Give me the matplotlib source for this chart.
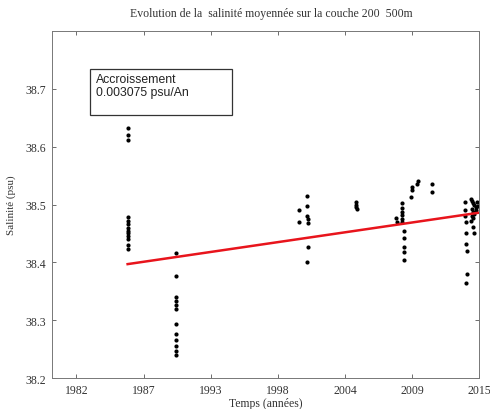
import matplotlib
matplotlib.use("Agg")
import matplotlib.pyplot as plt

# --- data (decimal years, salinity psu) ---
years_1986 = [1986.2] * 13
sal_1986 = [38.632, 38.620, 38.612, 38.478, 38.472, 38.466, 38.460, 38.455,
            38.450, 38.445, 38.440, 38.430, 38.424]

years_1990 = [1990.2] * 12
sal_1990 = [38.416, 38.376, 38.340, 38.333, 38.326, 38.319, 38.293, 38.276,
            38.266, 38.256, 38.247, 38.239]

years_2000 = [2000.2, 2000.2, 2000.9, 2000.9, 2000.9, 2001.0, 2001.0, 2001.0, 2000.9]
sal_2000 = [38.491, 38.470, 38.514, 38.498, 38.480, 38.475, 38.468, 38.427, 38.400]

years_2005 = [2004.9, 2004.9, 2004.9, 2004.95]
sal_2005 = [38.505, 38.500, 38.496, 38.492]

years_2008 = [2008.2, 2008.3, 2008.7, 2008.7, 2008.7, 2008.7, 2008.7, 2008.7,
              2008.8, 2008.8, 2008.8, 2008.8, 2008.8,
              2009.4, 2009.5, 2009.5, 2009.9, 2010.0, 2011.1, 2011.1]
sal_2008 = [38.476, 38.469, 38.503, 38.494, 38.487, 38.482, 38.475, 38.470,
            38.454, 38.442, 38.427, 38.418, 38.404,
            38.513, 38.525, 38.530, 38.536, 38.541, 38.536, 38.522]

years_2014 = [2013.8, 2013.8, 2013.8, 2013.9, 2013.9, 2013.9, 2014.0, 2014.0, 2013.9,
              2014.3, 2014.4, 2014.5, 2014.6, 2014.7, 2014.4, 2014.5, 2014.6,
              2014.8, 2014.9, 2014.7, 2014.3, 2014.5, 2014.6, 2014.4, 2014.5]
sal_2014 = [38.505, 38.490, 38.480, 38.470, 38.450, 38.432, 38.420, 38.380, 38.365,
            38.510, 38.507, 38.503, 38.500, 38.496, 38.492, 38.488, 38.484,
            38.505, 38.498, 38.490, 38.472, 38.462, 38.450, 38.480, 38.476]

trend_years = [1986.2, 2015.0]
trend_sal = [38.397, 38.486]

xtick_pos = [1982, 1987.5, 1993, 1998.5, 2004, 2009.5, 2015]
xtick_labels = ["1982", "1987", "1993", "1998", "2004", "2009", "2015"]
ytick_pos = [38.2, 38.3, 38.4, 38.5, 38.6, 38.7]
ytick_labels = ["38.2", "38.3", "38.4", "38.5", "38.6", "38.7"]

serif = ["Liberation Serif", "DejaVu Serif"]

fig = plt.figure(figsize=(4.9, 4.1), dpi=100)
ax = fig.add_axes([0.106, 0.0756, 0.872, 0.846])

for xs, ys in [(years_1986, sal_1986), (years_1990, sal_1990), (years_2000, sal_2000),
               (years_2005, sal_2005), (years_2008, sal_2008), (years_2014, sal_2014)]:
    ax.plot(xs, ys, "o", color="black", markersize=3.0, markeredgewidth=0, linestyle="none")

ax.plot(trend_years, trend_sal, color="#e8141c", linewidth=1.8)

ax.set_xlim(1980, 2015)
ax.set_ylim(38.2, 38.8)
ax.set_xticks(xtick_pos)
ax.set_xticklabels(xtick_labels, fontfamily=serif, fontsize=8.5)
ax.set_yticks(ytick_pos)
ax.set_yticklabels(ytick_labels, fontfamily=serif, fontsize=8.5)
ax.tick_params(direction="in", length=3, width=0.6, top=True, right=True, colors="#555555",
               labelcolor="#333333", pad=4)
for s in ax.spines.values():
    s.set_linewidth(0.7)
    s.set_color("#777777")

ax.set_xlabel("Temps (années)", fontfamily=serif, fontsize=8.5, color="#333333", labelpad=1)
ax.set_ylabel("Salinité (psu)", fontfamily=serif, fontsize=8, color="#333333", labelpad=7)
fig.text(0.553, 0.967, "Evolution de la  salinité moyennée sur la couche 200  500m",
         ha="center", va="center", fontfamily=serif, fontsize=8.5, color="#333333")

ax.text(0.102, 0.878, "Accroissement\n0.003075 psu/An", transform=ax.transAxes,
        ha="left", va="top", fontfamily=["Liberation Sans", "DejaVu Sans"], fontsize=8.8,
        color="#222222", linespacing=1.1)
box = plt.Rectangle((0.089, 0.758), 0.332, 0.133, transform=ax.transAxes,
                    fill=False, edgecolor="#333333", linewidth=0.9)
ax.add_patch(box)

fig.savefig("out.png", dpi=100)
